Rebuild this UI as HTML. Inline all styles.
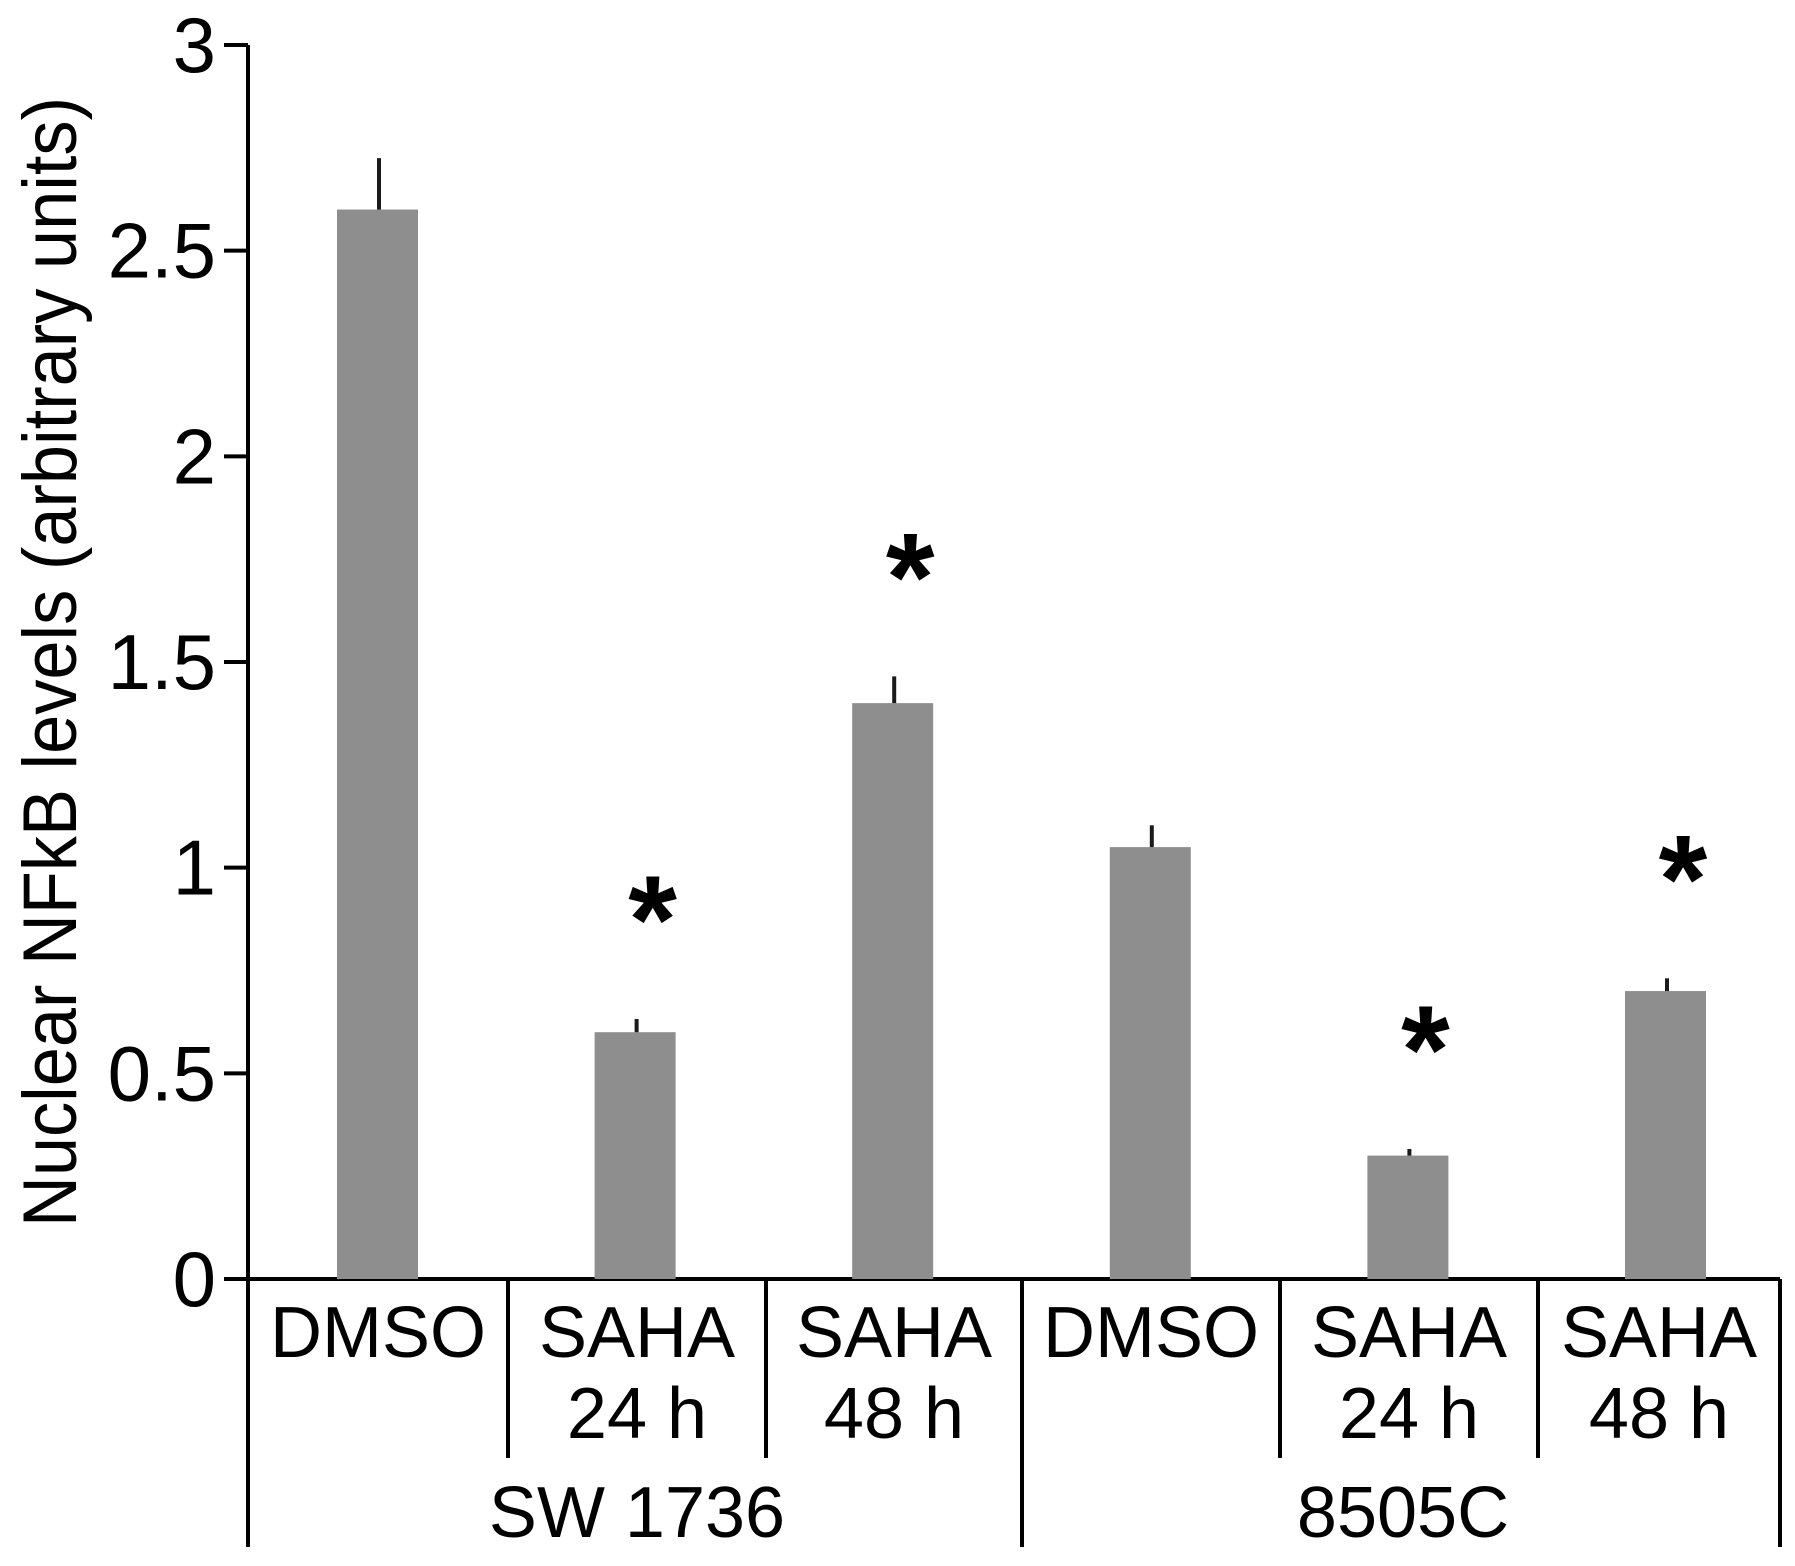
<!DOCTYPE html>
<html><head><meta charset="utf-8"><style>
html,body{margin:0;padding:0;background:#fff;}
svg{display:block;font-family:"Liberation Sans",Arial,sans-serif;}
</style></head><body>
<svg id="chart" width="1795" height="1566" viewBox="0 0 1795 1566">
<g id="axes"></g><g id="bars"></g><g id="labels"></g>
</svg>
<script>
const categories = ["DMSO","SAHA|24 h","SAHA|48 h","DMSO","SAHA|24 h","SAHA|48 h"];
const values = [2.6, 0.6, 1.4, 1.05, 0.3, 0.7];
const errors = [0.125, 0.032, 0.065, 0.053, 0.016, 0.031];
const significant = [false, true, true, false, true, true];
const groups = ["SW 1736","8505C"];
const yTicks = [0, 0.5, 1, 1.5, 2, 2.5, 3];
const yTickLabels = ["0","0.5","1","1.5","2","2.5","3"];

const NS="http://www.w3.org/2000/svg";
const x0=248, x1=1780, y0=1279, yTop=45, yMax=3;
const cellEdges=[248,508,766,1022,1280,1538,1780];
function y(v){return y0-(v/yMax)*(y0-yTop);}
function cx(i){return cellEdges[i]+(cellEdges[i+1]-cellEdges[i])/2;}
function barX(i){return 377+i*257.6;}
function mk(tag,attrs,parent){const e=document.createElementNS(NS,tag);for(const k in attrs)e.setAttribute(k,attrs[k]);parent.appendChild(e);return e;}
const axes=document.getElementById('axes'),bars=document.getElementById('bars'),labels=document.getElementById('labels');

let l=mk('line',{x1:x0,y1:yTop,x2:x0,y2:1547,stroke:'#000','stroke-width':4},axes);


l=mk('line',{x1:224,y1:y0,x2:x1,y2:y0,stroke:'#000','stroke-width':4},axes);


yTicks.forEach((t,i)=>{
  const tk=mk('line',{x1:224,y1:y(t),x2:x0,y2:y(t),stroke:'#000','stroke-width':4},axes);
  
  
  const tx=mk('text',{x:216,y:y(t)+27,'text-anchor':'end','font-size':78,fill:'#000'},axes);
  tx.textContent=yTickLabels[i];
  
  
});
const title=mk('text',{x:0,y:0,transform:'translate(76,662) rotate(-90)','text-anchor':'middle','font-size':76,fill:'#000',textLength:1130,lengthAdjust:'spacingAndGlyphs'},axes);
title.textContent='Nuclear NFkB levels (arbitrary units)';



cellEdges.forEach((e,i)=>{
  if(i===0)return;
  const full=(i===3||i===6);
  const s=mk('line',{x1:e,y1:y0,x2:e,y2:full?1547:1458,stroke:'#000','stroke-width':4},axes);
  
  
});

values.forEach((v,i)=>{
  const bx=barX(i);
  const r=mk('rect',{x:bx-40,y:y(v),width:81,height:y0-y(v),fill:'#8e8e8e'},bars);
  
  
  const eb=mk('line',{x1:bx+2,y1:y(v),x2:bx+2,y2:y(v+errors[i]),stroke:'#1a1a1a','stroke-width':4},bars);
  
  
  if(significant[i]){
    const st=mk('text',{x:bx+18,y:y(v+errors[i])-118+62,'text-anchor':'middle','font-size':125,'font-weight':'bold',fill:'#000'},bars);
    st.textContent='*';
    
    
  }
});

categories.forEach((c,i)=>{
  const parts=c.split('|');
  parts.forEach((p,j)=>{
    const t=mk('text',{x:cx(i),y:1357+j*81,'text-anchor':'middle','font-size':72,fill:'#000'},labels);
    t.textContent=p;
    
    
  });
});
groups.forEach((g,i)=>{
  const a=cellEdges[i*3], b=cellEdges[i*3+3];
  const t=mk('text',{x:(a+b)/2+2,y:1537,'text-anchor':'middle','font-size':72,fill:'#000'},labels);
  t.textContent=g;
  
  
});
</script>
</body></html>
